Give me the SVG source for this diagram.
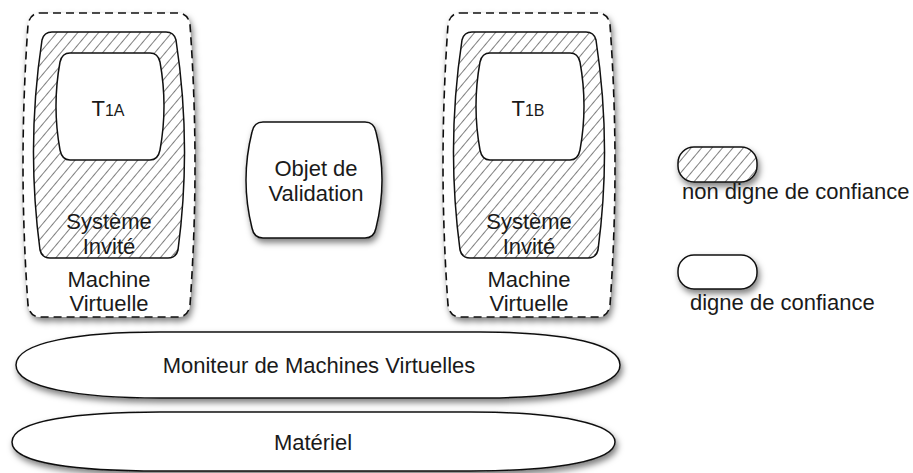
<svg xmlns="http://www.w3.org/2000/svg" width="913" height="473" viewBox="0 0 913 473">
<style>
  text { font-family: "Liberation Sans", Arial, Helvetica, sans-serif; font-size: 22px; fill: #1a1a1a; }
  .c { text-anchor: middle; }
  .solid { fill: #fff; stroke: #111; stroke-width: 1.5; }
  .dashed { fill: #fff; stroke: #111; stroke-width: 1.6; stroke-dasharray: 8 5; }
  .hatch { fill: url(#hatch); stroke: #111; stroke-width: 1.5; }
</style>
<defs>
  <pattern id="hatch" patternUnits="userSpaceOnUse" width="8" height="8" patternTransform="rotate(40)">
    <rect width="8" height="8" fill="#fff"/>
    <line x1="0" y1="0" x2="0" y2="8" stroke="#2a2a2a" stroke-width="1.2"/>
  </pattern>
  <filter id="shadow" x="-10%" y="-10%" width="130%" height="140%">
    <feDropShadow dx="2" dy="4" stdDeviation="3" flood-color="#000" flood-opacity="0.5"/>
  </filter>
</defs>
<rect width="913" height="473" fill="#fff"/>

<g id="vm-a">
  <path class="dashed" filter="url(#shadow)" d="M40,13 L178,13 Q188,13 190,25 Q200,165 190,305 Q188,317 178,317 L40,317 Q30,317 28,305 Q18,165 28,25 Q30,13 40,13 Z"/>
  <path class="hatch" d="M52,32 L166,32 Q174,32 176,40 Q192,145 178,250 Q176,258 168,258 L50,258 Q42,258 40,250 Q26,145 42,40 Q44,32 52,32 Z"/>
  <path class="solid" d="M70,53 L150,53 Q158,53 160,62 Q168,106 160,150 Q158,160 150,160 L70,160 Q62,160 60,150 Q52,106 60,62 Q62,53 70,53 Z"/>
  <text x="108" y="116" class="c"><tspan font-size="22">T</tspan><tspan font-size="16">1A</tspan></text>
  <text x="109" y="229" class="c">Système</text>
  <text x="109" y="254" class="c">Invité</text>
  <text x="109" y="287" class="c">Machine</text>
  <text x="109" y="311" class="c">Virtuelle</text>
</g>

<g id="vm-b">
  <path class="dashed" filter="url(#shadow)" d="M460,13 L598,13 Q608,13 610,25 Q620,165 610,305 Q608,317 598,317 L460,317 Q450,317 448,305 Q438,165 448,25 Q450,13 460,13 Z"/>
  <path class="hatch" d="M472,32 L586,32 Q594,32 596,40 Q612,145 598,250 Q596,258 588,258 L470,258 Q462,258 460,250 Q446,145 462,40 Q464,32 472,32 Z"/>
  <path class="solid" d="M490,53 L570,53 Q578,53 580,62 Q588,106 580,150 Q578,160 570,160 L490,160 Q482,160 480,150 Q472,106 480,62 Q482,53 490,53 Z"/>
  <text x="528" y="116" class="c"><tspan font-size="22">T</tspan><tspan font-size="16">1B</tspan></text>
  <text x="529" y="229" class="c">Système</text>
  <text x="529" y="254" class="c">Invité</text>
  <text x="529" y="287" class="c">Machine</text>
  <text x="529" y="311" class="c">Virtuelle</text>
</g>

<g id="validation">
  <path class="solid" filter="url(#shadow)" d="M263,122 L365,122 Q374,122 376,132 Q388,180 376,228 Q374,238 365,238 L263,238 Q254,238 252,228 Q240,180 252,132 Q254,122 263,122 Z"/>
  <text x="316" y="176" class="c">Objet de</text>
  <text x="316" y="201" class="c">Validation</text>
</g>

<g id="vmm">
  <path class="solid" filter="url(#shadow)" d="M16,365 C16,342 80,332 160,332 L480,332 C570,332 620,345 620,365 C620,385 570,398 480,398 L160,398 C80,398 16,388 16,365 Z"/>
  <text x="319" y="373" class="c">Moniteur de Machines Virtuelles</text>
</g>

<g id="hardware">
  <path class="solid" filter="url(#shadow)" d="M12,442 C12,420 80,412 160,412 L470,412 C560,412 615,424 615,442 C615,460 560,471 470,471 L160,471 C80,471 12,464 12,442 Z"/>
  <text x="313" y="450" class="c">Matériel</text>
</g>

<g id="legend-untrusted">
  <rect class="hatch" filter="url(#shadow)" x="678" y="147" width="79" height="35" rx="16" ry="16"/>
  <text x="682" y="199">non digne de confiance</text>
</g>

<g id="legend-trusted">
  <rect class="solid" filter="url(#shadow)" x="678" y="255" width="79" height="34" rx="16" ry="16"/>
  <text x="690" y="310">digne de confiance</text>
</g>

<g id="connectors"></g>
</svg>
